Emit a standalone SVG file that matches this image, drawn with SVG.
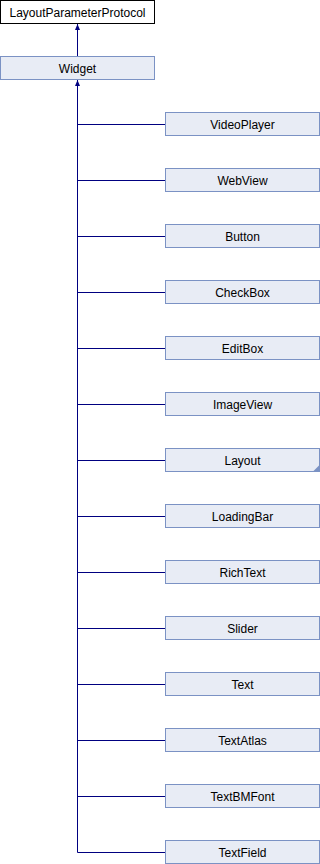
<svg xmlns="http://www.w3.org/2000/svg" width="320" height="864" viewBox="0 0 320 864">
<style>
.n rect{fill:#e8ecf5;stroke:#7b92c4;stroke-width:1}
.n text{font-family:"Liberation Sans",Arial,sans-serif;font-size:12px;fill:#000;text-anchor:middle}
.c{stroke:#000080;stroke-width:1;fill:none}
</style>
<defs>
<marker id="a" markerWidth="6" markerHeight="5" refX="6" refY="2.5" orient="auto" markerUnits="userSpaceOnUse" viewBox="0 0 6 5">
<path d="M0,0 L6,2.5 L0,5 Z" fill="#000080"/>
</marker>
</defs>
<g id="connectors">
<path class="c" d="M77.5,56 V24" marker-end="url(#a)"/>
<path class="c" d="M77.5,852.5 V80" marker-end="url(#a)"/>
<path class="c" d="M77.5,124.5H165 M77.5,180.5H165 M77.5,236.5H165 M77.5,292.5H165 M77.5,348.5H165 M77.5,404.5H165 M77.5,460.5H165 M77.5,516.5H165 M77.5,572.5H165 M77.5,628.5H165 M77.5,684.5H165 M77.5,740.5H165 M77.5,796.5H165 M77.5,852.5H165"/>
</g>
<g id="LayoutParameterProtocol" class="n"><rect x="0.5" y="0.5" width="154" height="23" style="fill:#fff;stroke:#000"/><text x="77.5" y="16.5">LayoutParameterProtocol</text></g>
<g id="Widget" class="n"><rect x="0.5" y="56.5" width="154" height="23"/><text x="77.5" y="72.5">Widget</text></g>
<g id="VideoPlayer" class="n"><rect x="165.5" y="112.5" width="154" height="23"/><text x="242.5" y="128.5">VideoPlayer</text></g>
<g id="WebView" class="n"><rect x="165.5" y="168.5" width="154" height="23"/><text x="242.5" y="184.5">WebView</text></g>
<g id="Button" class="n"><rect x="165.5" y="224.5" width="154" height="23"/><text x="242.5" y="240.5">Button</text></g>
<g id="CheckBox" class="n"><rect x="165.5" y="280.5" width="154" height="23"/><text x="242.5" y="296.5">CheckBox</text></g>
<g id="EditBox" class="n"><rect x="165.5" y="336.5" width="154" height="23"/><text x="242.5" y="352.5">EditBox</text></g>
<g id="ImageView" class="n"><rect x="165.5" y="392.5" width="154" height="23"/><text x="242.5" y="408.5">ImageView</text></g>
<g id="Layout" class="n"><rect x="165.5" y="448.5" width="154" height="23"/><text x="242.5" y="464.5">Layout</text><path d="M319.5,465 V471.5 H313 Z" fill="#7b92c4"/></g>
<g id="LoadingBar" class="n"><rect x="165.5" y="504.5" width="154" height="23"/><text x="242.5" y="520.5">LoadingBar</text></g>
<g id="RichText" class="n"><rect x="165.5" y="560.5" width="154" height="23"/><text x="242.5" y="576.5">RichText</text></g>
<g id="Slider" class="n"><rect x="165.5" y="616.5" width="154" height="23"/><text x="242.5" y="632.5">Slider</text></g>
<g id="Text" class="n"><rect x="165.5" y="672.5" width="154" height="23"/><text x="242.5" y="688.5">Text</text></g>
<g id="TextAtlas" class="n"><rect x="165.5" y="728.5" width="154" height="23"/><text x="242.5" y="744.5">TextAtlas</text></g>
<g id="TextBMFont" class="n"><rect x="165.5" y="784.5" width="154" height="23"/><text x="242.5" y="800.5">TextBMFont</text></g>
<g id="TextField" class="n"><rect x="165.5" y="840.5" width="154" height="23"/><text x="242.5" y="856.5">TextField</text></g>
</svg>
